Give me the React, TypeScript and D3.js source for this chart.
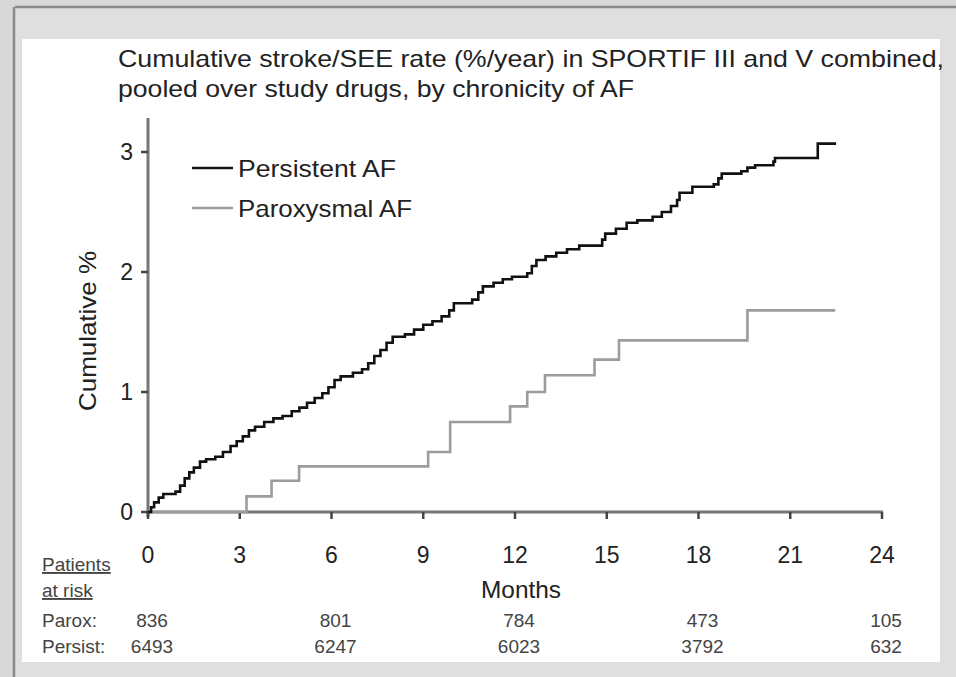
import React from "react";
import * as d3 from "d3";

const titleLines = [
  "Cumulative stroke/SEE rate (%/year) in SPORTIF III and V combined,",
  "pooled over study drugs, by chronicity of AF",
];
const seriesNames = ["Persistent AF", "Paroxysmal AF"];

// [month, cumulative %]
const persistent: [number, number][] = [
  [0, 0], [0.1, 0.04], [0.2, 0.08], [0.35, 0.12], [0.5, 0.15], [0.9, 0.17], [1.05, 0.22],
  [1.2, 0.28], [1.35, 0.33], [1.5, 0.37], [1.7, 0.42], [1.9, 0.44], [2.2, 0.46], [2.45, 0.5],
  [2.7, 0.55], [2.9, 0.59], [3.1, 0.63], [3.3, 0.68], [3.5, 0.71], [3.8, 0.75], [4.1, 0.78],
  [4.4, 0.8], [4.7, 0.84], [4.95, 0.87], [5.2, 0.91], [5.45, 0.95], [5.7, 0.99], [5.9, 1.04],
  [6.1, 1.1], [6.3, 1.13], [6.7, 1.16], [7.0, 1.19], [7.2, 1.24], [7.4, 1.3], [7.6, 1.35],
  [7.8, 1.41], [8.0, 1.46], [8.4, 1.48], [8.7, 1.52], [9.0, 1.56], [9.3, 1.59], [9.6, 1.63],
  [9.85, 1.68], [10.0, 1.74], [10.6, 1.77], [10.8, 1.83], [10.95, 1.88], [11.3, 1.91],
  [11.6, 1.94], [11.9, 1.96], [12.4, 1.99], [12.55, 2.05], [12.7, 2.1], [13.0, 2.13],
  [13.35, 2.16], [13.7, 2.19], [14.1, 2.22], [14.85, 2.27], [14.95, 2.32], [15.3, 2.36],
  [15.65, 2.41], [16.0, 2.43], [16.5, 2.46], [16.8, 2.5], [17.1, 2.55], [17.3, 2.6],
  [17.38, 2.66], [17.8, 2.71], [18.5, 2.73], [18.65, 2.78], [18.76, 2.82], [19.4, 2.84],
  [19.6, 2.87], [19.85, 2.89], [20.45, 2.92], [20.5, 2.95], [21.9, 3.07], [22.5, 3.07],
];
const paroxysmal: [number, number][] = [
  [0, 0], [3.22, 0.13], [4.04, 0.26], [4.94, 0.38], [9.16, 0.5], [9.88, 0.75], [11.84, 0.88],
  [12.4, 1.0], [12.98, 1.14], [14.6, 1.27], [15.4, 1.43], [19.6, 1.68], [22.47, 1.68],
];

const xTicks = [0, 3, 6, 9, 12, 15, 18, 21, 24];
const yTicks = [0, 1, 2, 3];
const riskMonths = [0, 6, 12, 18, 24];
const riskParox = ["836", "801", "784", "473", "105"];
const riskPersist = ["6493", "6247", "6023", "3792", "632"];

const W = 956;
const H = 677;
const FONT = "'Liberation Sans', Arial, Helvetica, sans-serif";

export default function App() {
  const x = d3.scaleLinear().domain([0, 24]).range([148, 882]);
  const y = d3.scaleLinear().domain([0, 3]).range([512, 152]);
  const line = d3
    .line<[number, number]>()
    .x((d) => x(d[0]))
    .y((d) => y(d[1]))
    .curve(d3.curveStepAfter);

  return (
    <svg
      width={W}
      height={H}
      style={{ position: "absolute", left: 0, top: 0, fontFamily: FONT }}
    >
      <rect x={0} y={0} width={W} height={H} fill="#d8d8d8" />
      <rect x={15} y={8} width={W - 15} height={H - 8} fill="#dfdfdf" />
      <line x1={15} y1={7} x2={W} y2={7} stroke="#8a8a8a" strokeWidth={2.5} />
      <line x1={14} y1={7} x2={14} y2={H} stroke="#8a8a8a" strokeWidth={2.5} />
      <rect x={22} y={39} width={918} height={623} fill="#ffffff" />

      {/* title */}
      <text x={118} y={67} fontSize={24} fill="#222" textLength={826} lengthAdjust="spacingAndGlyphs">
        {titleLines[0]}
      </text>
      <text x={118} y={97} fontSize={24} fill="#222" textLength={516} lengthAdjust="spacingAndGlyphs">
        {titleLines[1]}
      </text>

      {/* axes */}
      <line x1={x(0)} y1={y(0) + 5} x2={x(0)} y2={118} stroke="#777" strokeWidth={3} />
      <line x1={x(0) - 2} y1={y(0)} x2={x(24) + 1} y2={y(0)} stroke="#777" strokeWidth={3} />
      {yTicks.map((t) => (
        <g key={"y" + t}>
          <line x1={x(0) - 7} x2={x(0)} y1={y(t)} y2={y(t)} stroke="#444" strokeWidth={2.5} />
          <text x={133} y={y(t) + 8} fontSize={23} fill="#222" textAnchor="end">
            {t}
          </text>
        </g>
      ))}
      {xTicks.map((t) => (
        <g key={"x" + t}>
          <line x1={x(t)} x2={x(t)} y1={y(0)} y2={y(0) + 7} stroke="#444" strokeWidth={2.5} />
          <text x={x(t)} y={563} fontSize={23} fill="#222" textAnchor="middle">
            {t}
          </text>
        </g>
      ))}

      <text
        transform={`translate(96,331) rotate(-90)`}
        fontSize={24}
        fill="#222"
        textAnchor="middle"
        textLength={160}
        lengthAdjust="spacingAndGlyphs"
      >
        Cumulative %
      </text>
      <text x={521} y={598} fontSize={24} fill="#222" textAnchor="middle" textLength={80} lengthAdjust="spacingAndGlyphs">
        Months
      </text>

      {/* curves */}
      <path d={line(paroxysmal) || ""} fill="none" stroke="#9c9c9c" strokeWidth={2.6} />
      <path d={line(persistent) || ""} fill="none" stroke="#111" strokeWidth={2.6} />

      {/* legend */}
      <line x1={192} x2={233} y1={168} y2={168} stroke="#111" strokeWidth={2.6} />
      <text x={238} y={177} fontSize={24} fill="#222" textLength={158} lengthAdjust="spacingAndGlyphs">
        {seriesNames[0]}
      </text>
      <line x1={192} x2={233} y1={208} y2={208} stroke="#9c9c9c" strokeWidth={2.6} />
      <text x={238} y={217} fontSize={24} fill="#222" textLength={174} lengthAdjust="spacingAndGlyphs">
        {seriesNames[1]}
      </text>

      {/* patients at risk */}
      <text x={42} y={571} fontSize={19} fill="#444" textDecoration="underline">
        Patients
      </text>
      <text x={42} y={597} fontSize={19} fill="#444" textDecoration="underline">
        at risk
      </text>
      <text x={42} y={627} fontSize={19} fill="#444">
        Parox:
      </text>
      <text x={42} y={653} fontSize={19} fill="#444">
        Persist:
      </text>
      {riskMonths.map((m, i) => (
        <g key={"r" + m}>
          <text x={x(m) + 4} y={627} fontSize={19} fill="#444" textAnchor="middle">
            {riskParox[i]}
          </text>
          <text x={x(m) + 4} y={653} fontSize={19} fill="#444" textAnchor="middle">
            {riskPersist[i]}
          </text>
        </g>
      ))}
    </svg>
  );
}
